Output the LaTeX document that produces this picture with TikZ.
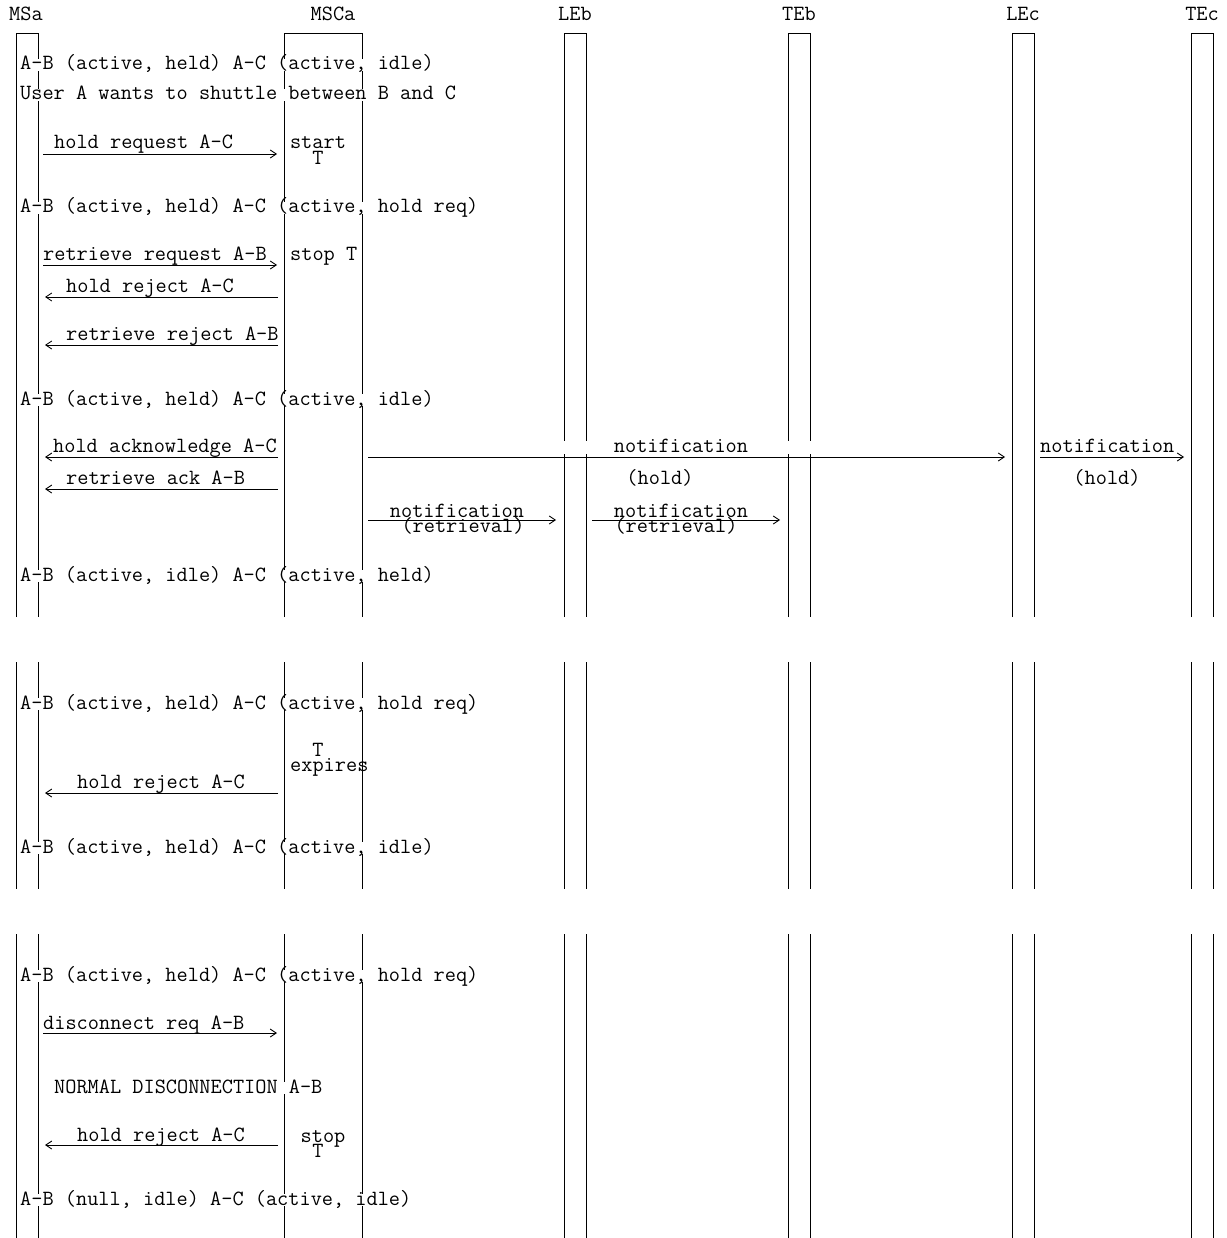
\documentclass[tikz,border=0pt]{standalone}
\usepackage{fontspec}
\usetikzlibrary{arrows.meta}
\newcommand{\mscfont}{\ttfamily\fontsize{21.7}{23}\selectfont}

\begin{document}
\begin{tikzpicture}[
    x=1pt, y=-1pt,
    every node/.style={font=\mscfont, inner sep=0pt},
    head/.style={anchor=base},
    life/.style={line width=0.9pt},
    state/.style={anchor=base west, fill=white, text height=11pt, text depth=1pt},
    lbl/.style={anchor=base west},
    note/.style={anchor=base},
    msg/.style={-{Straight Barb[length=6pt,width=8pt]}, line width=0.9pt}
]
\useasboundingbox (0,0) rectangle (1226,1238);

% entity headers
\node[head] (MSa)  at (26,21)   {MSa};
\node[head] (MSCa) at (333,21)  {MSCa};
\node[head] (LEb)  at (575,21)  {LEb};
\node[head] (TEb)  at (799,21)  {TEb};
\node[head] (LEc)  at (1023,21) {LEc};
\node[head] (TEc)  at (1202,21) {TEc};

% lifelines, three sections
\foreach \xl/\xr in {16/38, 284/362, 564/586, 788/810, 1012/1034, 1191/1213} {
    \draw[life] (\xl,617) |- (\xr,33) -- (\xr,617);
    \draw[life] (\xl,662) -- (\xl,889) (\xr,662) -- (\xr,889);
    \draw[life] (\xl,934) -- (\xl,1238) (\xr,934) -- (\xr,1238);
}

% section 1
\node[state] (st1) at (20,70)  {A-B (active, held) A-C (active, idle)};
\node[state] (usr) at (20,100) {User A wants to shuttle between B and C};

\coordinate (hqS) at (43,154); \coordinate (hqE) at (277,154);
\draw[msg] (hqS) -- (hqE);
\node[lbl] (hqL) at (54,149) {hold request A-C};
\node[note] (startT1) at (318,149) {start};
\node[note] (startT2) at (318,165) {T};

\node[state] (st2) at (20,213) {A-B (active, held) A-C (active, hold req)};

\coordinate (rqS) at (43,265); \coordinate (rqE) at (277,265);
\draw[msg] (rqS) -- (rqE);
\node[lbl] (rqL) at (43,261) {retrieve request A-B};
\node[lbl] (stopT) at (290,261) {stop T};

\coordinate (hjS) at (278,297); \coordinate (hjE) at (45,297);
\draw[msg] (hjS) -- (hjE);
\node[lbl] (hjL) at (66,292) {hold reject A-C};

\coordinate (rjS) at (278,345); \coordinate (rjE) at (45,345);
\draw[msg] (rjS) -- (rjE);
\node[lbl] (rjL) at (66,340) {retrieve reject A-B};

\node[state] (st3) at (20,405) {A-B (active, held) A-C (active, idle)};

\coordinate (haS) at (278,457); \coordinate (haE) at (45,457);
\draw[msg] (haS) -- (haE);
\node[lbl] (haL) at (53,452) {hold acknowledge A-C};

\fill[white] (368,441) rectangle (1005,454);
\coordinate (nhS) at (368,457); \coordinate (nhE) at (1005,457);
\draw[msg] (nhS) -- (nhE);
\node[note] (nhL) at (681,452) {notification};
\node[note] (nhH) at (660,484) {(hold)};

\coordinate (ncS) at (1040,457); \coordinate (ncE) at (1184,457);
\draw[msg] (ncS) -- (ncE);
\node[lbl] (ncL) at (1040,452) {notification};
\node[note] (ncH) at (1107,484) {(hold)};

\coordinate (raS) at (278,489); \coordinate (raE) at (45,489);
\draw[msg] (raS) -- (raE);
\node[lbl] (raL) at (66,484) {retrieve ack A-B};

\coordinate (nrS) at (368,520); \coordinate (nrE) at (556,520);
\draw[msg] (nrS) -- (nrE);
\node[note] (nrL) at (457,517) {notification};
\node[note] (nrR) at (463,532) {(retrieval)};

\coordinate (ntS) at (592,520); \coordinate (ntE) at (780,520);
\draw[msg] (ntS) -- (ntE);
\node[note] (ntL) at (681,517) {notification};
\node[note] (ntR) at (676,532) {(retrieval)};

\node[state] (st4) at (20,581) {A-B (active, idle) A-C (active, held)};

% section 2
\node[state] (st5) at (20,709) {A-B (active, held) A-C (active, hold req)};
\node[note] (expT1) at (318,756) {T};
\node[lbl] (expT2) at (290,771) {expires};

\coordinate (hkS) at (278,793); \coordinate (hkE) at (45,793);
\draw[msg] (hkS) -- (hkE);
\node[lbl] (hkL) at (77,788) {hold reject A-C};

\node[state] (st6) at (20,853) {A-B (active, held) A-C (active, idle)};

% section 3
\node[state] (st7) at (20,981) {A-B (active, held) A-C (active, hold req)};

\coordinate (dcS) at (43,1033); \coordinate (dcE) at (277,1033);
\draw[msg] (dcS) -- (dcE);
\node[lbl] (dcL) at (43,1029) {disconnect req A-B};

\node[state] (ndc) at (54,1093) {NORMAL DISCONNECTION A-B};

\coordinate (hxS) at (278,1145); \coordinate (hxE) at (45,1145);
\draw[msg] (hxS) -- (hxE);
\node[lbl] (hxL) at (77,1141) {hold reject A-C};
\node[note] (stopU1) at (323,1142) {stop};
\node[note] (stopU2) at (318,1157) {T};

\node[state] (st8) at (20,1205) {A-B (null, idle) A-C (active, idle)};

\end{tikzpicture}
\end{document}
